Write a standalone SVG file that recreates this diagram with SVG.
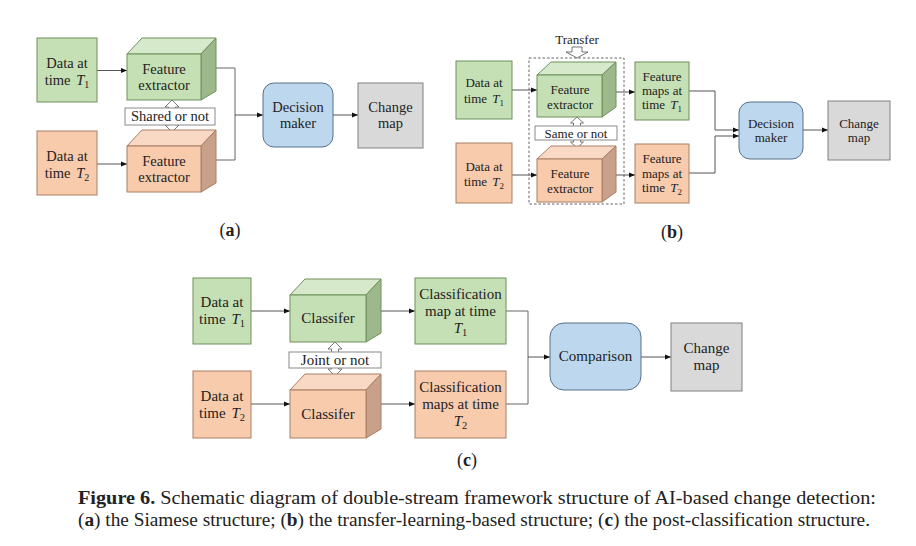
<svg xmlns="http://www.w3.org/2000/svg" width="916" height="546" viewBox="0 0 916 546">
<style>
text{font-family:"Liberation Serif","Times New Roman",serif;fill:#222;text-anchor:middle}
.a{font-size:14.5px}.b{font-size:13px}.c{font-size:15px}
.g{fill:#C5E0B4;stroke:#6F8F5C;stroke-width:1}
.gt{fill:#D6EACB;stroke:#6F8F5C;stroke-width:1}
.gr{fill:#9DB98B;stroke:#6F8F5C;stroke-width:1}
.o{fill:#F8CBAD;stroke:#A87E66;stroke-width:1}
.ot{fill:#FAD9C4;stroke:#A87E66;stroke-width:1}
.or{fill:#C9A18B;stroke:#A87E66;stroke-width:1}
.bl{fill:#BDD7EE;stroke:#56708C;stroke-width:1}
.gy{fill:#D9D9D9;stroke:#808080;stroke-width:1}
.lb{fill:#fff;stroke:#8A8A8A;stroke-width:1}
.ha{fill:#fff;stroke:#555;stroke-width:0.8}
.ln{fill:none;stroke:#666;stroke-width:1}
.ar{fill:none;stroke:#555;stroke-width:1;marker-end:url(#ah)}
.i{font-style:italic}
.cap{font-size:18px;text-anchor:start}
.lab{font-size:18px}
</style>
<defs>
<marker id="ah" viewBox="0 0 6 6" refX="6" refY="3" markerWidth="6" markerHeight="6" markerUnits="userSpaceOnUse" orient="auto">
<path d="M0,0.5 L6,3 L0,5.5 Z" fill="#111"/>
</marker>
</defs>

<!-- Connectors -->
<g id="connectors">
<!-- panel a -->
<line class="ar" x1="97" y1="70.5" x2="127" y2="70.5"/>
<line class="ar" x1="97" y1="164" x2="127" y2="164"/>
<polyline class="ln" points="208,68 235,68 235,160 208,160"/>
<line class="ar" x1="235" y1="115" x2="263" y2="115"/>
<line class="ar" x1="333" y1="115" x2="358" y2="115"/>
<!-- panel b -->
<line class="ar" x1="512" y1="90" x2="537" y2="90"/>
<line class="ar" x1="610" y1="92" x2="635" y2="92"/>
<line class="ar" x1="512" y1="175" x2="537" y2="175"/>
<line class="ar" x1="610" y1="175" x2="635" y2="175"/>
<polyline class="ar" points="689,91 715,91 715,130 739,130"/>
<polyline class="ar" points="689,173 715,173 715,136 739,136"/>
<line class="ar" x1="803" y1="130" x2="828" y2="130"/>
<!-- panel c -->
<line class="ar" x1="251" y1="311" x2="290" y2="311"/>
<line class="ar" x1="373" y1="311" x2="415" y2="311"/>
<line class="ar" x1="251" y1="404" x2="290" y2="404"/>
<line class="ar" x1="373" y1="404" x2="415" y2="404"/>
<polyline class="ln" points="506,311 528,311 528,404 506,404"/>
<line class="ar" x1="528" y1="357" x2="550" y2="357"/>
<line class="ar" x1="641" y1="357" x2="671" y2="357"/>
</g>

<!-- ===== Panel (a) ===== -->
<g id="a-data1">
<rect class="g" x="37" y="38" width="60" height="64"/>
<text class="a" x="67" y="68">Data at</text>
<text class="a" x="67" y="85">time <tspan class="i" dx="2">T</tspan><tspan font-size="10" dy="3">1</tspan></text>
</g>
<g id="a-data2">
<rect class="o" x="37" y="131" width="60" height="64"/>
<text class="a" x="67" y="161">Data at</text>
<text class="a" x="67" y="178">time <tspan class="i" dx="2">T</tspan><tspan font-size="10" dy="3">2</tspan></text>
</g>
<g id="a-share">
<polygon class="ha" points="172,100 179,107 175.5,107 175.5,125 179,125 172,132 165,125 168.5,125 168.5,107 165,107"/>
<rect class="lb" x="125" y="108" width="90" height="17"/>
<text class="a" x="170" y="121">Shared or not</text>
</g>
<g id="a-fe1">
<polygon class="gt" points="127,54 142,38 216,38 201,54"/>
<polygon class="gr" points="201,54 216,38 216,91 201,100"/>
<rect class="g" x="127" y="54" width="74" height="46"/>
<text class="a" x="164" y="74">Feature</text>
<text class="a" x="164" y="90">extractor</text>
</g>
<g id="a-fe2">
<polygon class="ot" points="127,146 142,130 216,130 201,146"/>
<polygon class="or" points="201,146 216,130 216,183 201,192"/>
<rect class="o" x="127" y="146" width="74" height="46"/>
<text class="a" x="164" y="166">Feature</text>
<text class="a" x="164" y="182">extractor</text>
</g>
<g id="a-dm">
<rect class="bl" x="263" y="83" width="70" height="64" rx="11"/>
<text class="a" x="298" y="112">Decision</text>
<text class="a" x="298" y="128">maker</text>
</g>
<g id="a-cm">
<rect class="gy" x="358" y="83" width="65" height="65"/>
<text class="a" x="390.5" y="112">Change</text>
<text class="a" x="390.5" y="128">map</text>
</g>
<text class="lab" x="230" y="236">(<tspan font-weight="bold">a</tspan>)</text>

<!-- ===== Panel (b) ===== -->
<g id="b-transfer">
<text class="b" x="577" y="44" font-size="12.5">Transfer</text>
<polygon class="ha" points="572,47 582,47 582,52 588,52 577,58 566,52 572,52"/>
<rect x="529" y="58" width="95" height="146" fill="none" stroke="#555" stroke-width="0.9" stroke-dasharray="2.5,2"/>
</g>
<g id="b-data1">
<rect class="g" x="456" y="61" width="56" height="58"/>
<text class="b" x="484" y="87">Data at</text>
<text class="b" x="484" y="103">time <tspan class="i" dx="2">T</tspan><tspan font-size="9" dy="3">1</tspan></text>
</g>
<g id="b-data2">
<rect class="o" x="456" y="143" width="56" height="60"/>
<text class="b" x="484" y="171">Data at</text>
<text class="b" x="484" y="186">time <tspan class="i" dx="2">T</tspan><tspan font-size="9" dy="3">2</tspan></text>
</g>
<g id="b-same">
<polygon class="ha" points="577,117 583.5,123 580.5,123 580.5,142 583.5,142 577,148 570.5,142 573.5,142 573.5,123 570.5,123"/>
<rect class="lb" x="535" y="126" width="82" height="14"/>
<text class="b" x="576" y="137.5">Same or not</text>
</g>
<g id="b-fe1">
<polygon class="gt" points="537,75 551,62 616,62 602,75"/>
<polygon class="gr" points="602,75 616,62 616,107 602,117"/>
<rect class="g" x="537" y="75" width="65" height="42"/>
<text class="b" x="570" y="94">Feature</text>
<text class="b" x="570" y="109">extractor</text>
</g>
<g id="b-fe2">
<polygon class="ot" points="537,159 551,146 616,146 602,159"/>
<polygon class="or" points="602,159 616,146 616,192 602,202"/>
<rect class="o" x="537" y="159" width="65" height="43"/>
<text class="b" x="570" y="178">Feature</text>
<text class="b" x="570" y="193">extractor</text>
</g>
<g id="b-fm1">
<rect class="g" x="635" y="62" width="54" height="58"/>
<text class="b" x="662" y="81">Feature</text>
<text class="b" x="662" y="95">maps at</text>
<text class="b" x="662" y="109">time <tspan class="i" dx="2">T</tspan><tspan font-size="9" dy="3">1</tspan></text>
</g>
<g id="b-fm2">
<rect class="o" x="635" y="144" width="54" height="59"/>
<text class="b" x="662" y="163">Feature</text>
<text class="b" x="662" y="178">maps at</text>
<text class="b" x="662" y="192">time <tspan class="i" dx="2">T</tspan><tspan font-size="9" dy="3">2</tspan></text>
</g>
<g id="b-dm">
<rect class="bl" x="739" y="102" width="64" height="57" rx="11"/>
<text class="b" x="771" y="128">Decision</text>
<text class="b" x="771" y="142">maker</text>
</g>
<g id="b-cm">
<rect class="gy" x="828" y="101" width="62" height="59"/>
<text class="b" x="859" y="128">Change</text>
<text class="b" x="859" y="142">map</text>
</g>
<text class="lab" x="672" y="238">(<tspan font-weight="bold">b</tspan>)</text>

<!-- ===== Panel (c) ===== -->
<g id="c-data1">
<rect class="g" x="193" y="278" width="58" height="66"/>
<text class="c" x="222" y="307">Data at</text>
<text class="c" x="222" y="324">time <tspan class="i" dx="2">T</tspan><tspan font-size="10.5" dy="3">1</tspan></text>
</g>
<g id="c-data2">
<rect class="o" x="193" y="371" width="58" height="67"/>
<text class="c" x="222" y="401">Data at</text>
<text class="c" x="222" y="418">time <tspan class="i" dx="2">T</tspan><tspan font-size="10.5" dy="3">2</tspan></text>
</g>
<g id="c-joint">
<polygon class="ha" points="335,342 342,349 338.5,349 338.5,369 342,369 335,376 328,369 331.5,369 331.5,349 328,349"/>
<rect class="lb" x="289" y="352" width="92" height="16"/>
<text class="c" x="335" y="364.5">Joint or not</text>
</g>
<g id="c-cl1">
<polygon class="gt" points="290,295 305,279 381,279 366,295"/>
<polygon class="gr" points="366,295 381,279 381,333 366,342"/>
<rect class="g" x="290" y="295" width="76" height="47"/>
<text class="c" x="328" y="323">Classifer</text>
</g>
<g id="c-cl2">
<polygon class="ot" points="290,390 305,374 381,374 366,390"/>
<polygon class="or" points="366,390 381,374 381,429 366,438"/>
<rect class="o" x="290" y="390" width="76" height="48"/>
<text class="c" x="328" y="419">Classifer</text>
</g>
<g id="c-cm1">
<rect class="g" x="415" y="278" width="91" height="66"/>
<text class="c" x="460.5" y="299">Classification</text>
<text class="c" x="460.5" y="316">map at time</text>
<text class="c" x="460.5" y="333"><tspan class="i">T</tspan><tspan font-size="10.5" dy="3">1</tspan></text>
</g>
<g id="c-cm2">
<rect class="o" x="415" y="371" width="91" height="67"/>
<text class="c" x="460.5" y="392">Classification</text>
<text class="c" x="460.5" y="409">maps at time</text>
<text class="c" x="460.5" y="426"><tspan class="i">T</tspan><tspan font-size="10.5" dy="3">2</tspan></text>
</g>
<g id="c-comp">
<rect class="bl" x="550" y="323" width="91" height="67" rx="14"/>
<text class="c" x="595.5" y="361">Comparison</text>
</g>
<g id="c-cm">
<rect class="gy" x="671" y="323" width="71" height="68"/>
<text class="c" x="706.5" y="353">Change</text>
<text class="c" x="706.5" y="370">map</text>
</g>
<text class="lab" x="467" y="466">(<tspan font-weight="bold">c</tspan>)</text>

<!-- Caption -->
<text class="cap" x="78" y="504" textLength="798" lengthAdjust="spacingAndGlyphs"><tspan font-weight="bold">Figure 6.</tspan> Schematic diagram of double-stream framework structure of AI-based change detection:</text>
<text class="cap" x="78" y="526" textLength="792" lengthAdjust="spacingAndGlyphs">(<tspan font-weight="bold">a</tspan>) the Siamese structure; (<tspan font-weight="bold">b</tspan>) the transfer-learning-based structure; (<tspan font-weight="bold">c</tspan>) the post-classification structure.</text>
</svg>
